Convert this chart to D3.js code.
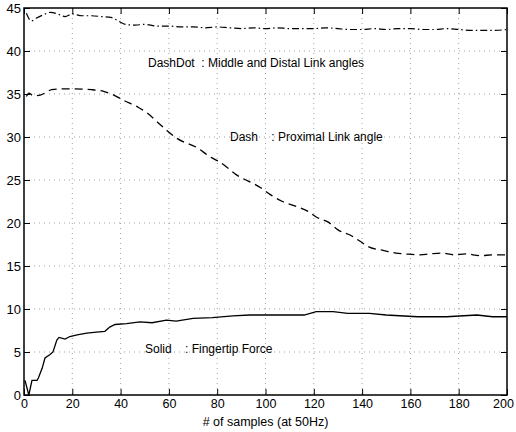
<!DOCTYPE html>
<html>
<head>
<meta charset="utf-8">
<script src="https://cdn.jsdelivr.net/npm/d3@7"></script>
<style>
  html, body { margin: 0; padding: 0; background: #fff; }
  text { font-family: "Liberation Sans", Arial, Helvetica, sans-serif; fill: #000; }
</style>
</head>
<body>
<svg id="chart" width="516" height="432"></svg>
<script>
// ---- data ----
const xTicks = [0, 20, 40, 60, 80, 100, 120, 140, 160, 180, 200];
const yTicks = [0, 5, 10, 15, 20, 25, 30, 35, 40, 45];

// DashDot: Middle and Distal Link angles
const dashDotSeries = [
  [1,44.4],[3,43.5],[5,43.8],[8,44.2],[11,44.5],[14,44.3],[17,44.0],[20,44.3],[24,44.1],
  [28,44.1],[32,44.0],[36,43.9],[39,43.5],[42,43.1],[46,43.0],[50,43.1],[55,42.9],[60,42.9],
  [65,42.8],[70,42.8],[75,42.7],[80,42.8],[85,42.7],[90,42.6],[95,42.7],[100,42.6],[105,42.7],
  [110,42.6],[115,42.6],[120,42.6],[125,42.7],[130,42.6],[135,42.5],[140,42.5],[145,42.6],
  [150,42.5],[155,42.6],[160,42.6],[165,42.5],[170,42.5],[175,42.6],[180,42.5],[185,42.4],
  [190,42.4],[195,42.4],[200,42.5]
];

// Dash: Proximal Link angle
const dashSeries = [
  [1,34.7],[2,35.1],[4,34.8],[7,34.9],[11.5,35.5],[16,35.6],[20,35.6],[28,35.5],[33,35.3],
  [37,34.9],[41,34.3],[47,33.5],[51,32.8],[55,31.8],[59,30.8],[63,29.9],[72,28.7],[77,27.7],
  [81,27.1],[88,25.6],[98,24.1],[102,23.3],[107,22.5],[113,21.9],[118,21.3],[121,20.7],
  [126,20.1],[130,19.2],[135,18.6],[139,17.9],[143,17.2],[149,16.8],[154,16.5],[158,16.4],
  [164,16.3],[168,16.4],[173,16.5],[178,16.3],[183,16.4],[189,16.2],[194,16.3],[200,16.3]
];

// Solid: Fingertip Force
const solidSeries = [
  [0.4,1.7],[2,0.0],[3.3,1.7],[5.4,1.7],[6,2.0],[7.5,3.1],[8.7,4.3],[10.8,4.7],[12,5.0],
  [13.6,6.4],[14.5,6.7],[17,6.5],[19,6.8],[22,7.0],[26,7.2],[30,7.3],[33.5,7.4],[35.5,7.9],
  [37.7,8.2],[42.5,8.3],[48,8.5],[53,8.4],[59,8.7],[63,8.6],[70,8.9],[78,9.0],[86.5,9.2],
  [93.5,9.3],[102,9.3],[116,9.3],[121,9.7],[128,9.7],[134,9.5],[143,9.5],[150,9.3],
  [163,9.1],[175,9.1],[187.5,9.3],[194,9.1],[200,9.1]
];

const annotations = [
  { x: 148, y: 67, text: "DashDot\u00A0\u00A0: Middle and Distal Link angles" },
  { x: 230, y: 141, text: "Dash\u00A0\u00A0\u00A0\u00A0: Proximal Link angle" },
  { x: 145, y: 353, text: "Solid\u00A0\u00A0\u00A0\u00A0: Fingertip Force" }
];
const xLabel = "# of samples (at 50Hz)";

// ---- drawing ----
const svg = d3.select("#chart");
const L = 24, R = 507, T = 8, B = 395;

const x = d3.scaleLinear().domain([0, 200]).range([L, R]);
const y = d3.scaleLinear().domain([0, 45]).range([B, T]);

// grid
const grid = svg.append("g").attr("stroke", "#888").attr("stroke-width", 0.8)
  .attr("stroke-dasharray", "1,4");
grid.selectAll(".gx").data(xTicks.slice(1, -1)).join("line")
  .attr("x1", d => x(d)).attr("x2", d => x(d)).attr("y1", T).attr("y2", B);
grid.selectAll(".gy").data(yTicks.slice(1, -1)).join("line")
  .attr("y1", d => y(d)).attr("y2", d => y(d)).attr("x1", L).attr("x2", R);

// axes with inward ticks
const tickLen = 6;
svg.append("g").attr("transform", `translate(0,${B})`)
  .call(d3.axisBottom(x).tickValues(xTicks).tickSizeInner(-tickLen).tickSizeOuter(0).tickPadding(4))
  .call(g => g.select(".domain").remove())
  .call(g => g.selectAll("text").attr("font-size", 12.5).attr("font-family", "Liberation Sans, Arial, sans-serif"))
  .call(g => g.selectAll(".tick").filter(d => d === 200).select("text").attr("dx", -4));
svg.append("g").attr("transform", `translate(0,${T})`)
  .call(d3.axisTop(x).tickValues(xTicks).tickSizeInner(-tickLen).tickSizeOuter(0).tickFormat(""))
  .call(g => g.select(".domain").remove());
svg.append("g").attr("transform", `translate(${L},0)`)
  .call(d3.axisLeft(y).tickValues(yTicks).tickSizeInner(-tickLen).tickSizeOuter(0).tickPadding(3))
  .call(g => g.select(".domain").remove())
  .call(g => g.selectAll("text").attr("font-size", 13).attr("font-family", "Liberation Sans, Arial, sans-serif"));
svg.append("g").attr("transform", `translate(${R},0)`)
  .call(d3.axisRight(y).tickValues(yTicks).tickSizeInner(-tickLen).tickSizeOuter(0).tickFormat(""))
  .call(g => g.select(".domain").remove());
svg.selectAll(".tick line").attr("stroke", "#000").attr("stroke-width", 1);

// frame
svg.append("rect").attr("x", L).attr("y", T).attr("width", R - L).attr("height", B - T)
  .attr("fill", "none").attr("stroke", "#000").attr("stroke-width", 1.5);

// lines
const line = d3.line().x(d => x(d[0])).y(d => y(d[1])).curve(d3.curveMonotoneX);
svg.append("path").datum(dashDotSeries).attr("d", line)
  .attr("fill", "none").attr("stroke", "#000").attr("stroke-width", 1.2)
  .attr("stroke-dasharray", "7,3,1.5,3");
svg.append("path").datum(dashSeries).attr("d", line)
  .attr("fill", "none").attr("stroke", "#000").attr("stroke-width", 1.3)
  .attr("stroke-dasharray", "8,5");
svg.append("path").datum(solidSeries).attr("d", d3.line().x(d => x(d[0])).y(d => y(d[1])))
  .attr("fill", "none").attr("stroke", "#000").attr("stroke-width", 1.3);

// annotations
svg.selectAll(".ann").data(annotations).join("text")
  .attr("x", d => d.x).attr("y", d => d.y).attr("font-size", 12).text(d => d.text);

svg.append("text").attr("x", (L + R) / 2).attr("y", 426).attr("text-anchor", "middle")
  .attr("font-size", 12.5).text(xLabel);
</script>
</body>
</html>
